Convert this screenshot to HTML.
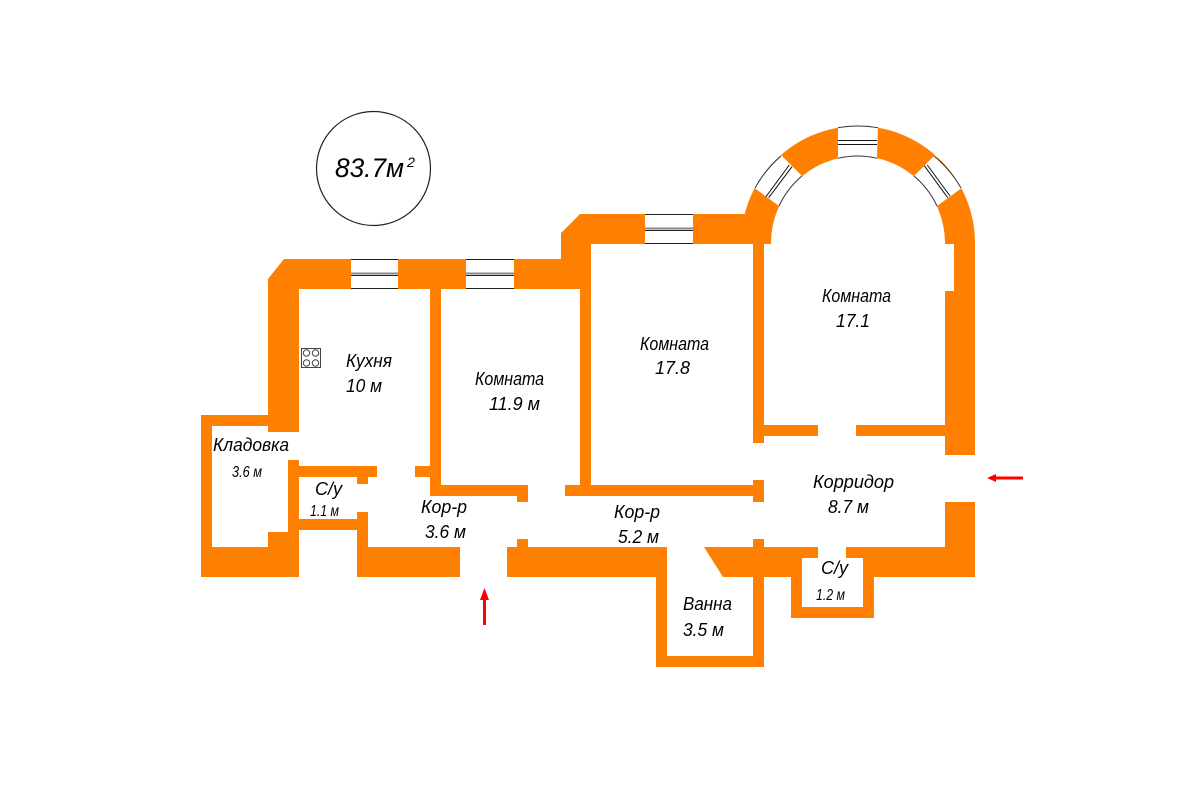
<!DOCTYPE html>
<html>
<head>
<meta charset="utf-8">
<style>
html,body{margin:0;padding:0;background:#fff;width:1197px;height:807px;overflow:hidden}
svg{display:block}
text{font-family:"Liberation Sans",sans-serif;font-style:italic;fill:#000;font-size:18px}
.s{font-size:15.5px}
</style>
</head>
<body>
<svg width="1197" height="807" viewBox="0 0 1197 807" xmlns="http://www.w3.org/2000/svg">
<rect width="1197" height="807" fill="#fff"/>
<circle cx="373.5" cy="168.5" r="57" fill="none" stroke="#222" stroke-width="1.2"/>
<g fill="#ff8000">
<polygon points="268,279 284,259 351,259 351,289 299,289 299,432 268,432"/>
<rect x="398" y="259" width="68" height="30"/>
<polygon points="514,259 561,259 561,233 580,214 645,214 645,244 591,244 591,496 580,496 580,289 514,289"/>
<rect x="693" y="214" width="78" height="30"/>
<path d="M741,243 A117,117 0 0 1 975,243 L945,243 A87,87 0 0 0 771,243 Z"/>
<polygon points="945,243 975,243 975,455 945,455 945,291 954,291 954,244 945,244"/>
<rect x="430" y="289" width="11" height="207"/>
<rect x="415" y="466" width="15" height="11"/>
<rect x="430" y="485" width="98" height="11"/>
<rect x="517" y="496" width="11" height="6"/>
<rect x="565" y="485" width="188" height="11"/>
<rect x="753" y="244" width="11" height="199"/>
<rect x="764" y="425" width="54" height="11"/>
<rect x="856" y="425" width="89" height="11"/>
<rect x="753" y="480" width="11" height="22"/>
<rect x="201" y="415" width="67" height="11"/>
<rect x="201" y="415" width="11" height="132"/>
<rect x="201" y="547" width="98" height="30"/>
<rect x="268" y="532" width="31" height="15"/>
<rect x="288" y="460" width="11" height="72"/>
<rect x="299" y="466" width="78" height="11"/>
<rect x="357" y="477" width="11" height="7"/>
<rect x="299" y="519" width="58" height="11"/>
<rect x="357" y="512" width="11" height="35"/>
<rect x="357" y="547" width="103" height="30"/>
<rect x="507" y="547" width="160" height="30"/>
<rect x="517" y="539" width="11" height="8"/>
<rect x="656" y="577" width="11" height="90"/>
<rect x="656" y="656" width="108" height="11"/>
<rect x="753" y="539" width="11" height="117"/>
<polygon points="704,547 818,547 818,558 802,558 802,607 863,607 863,558 846,558 846,547 945,547 945,502 975,502 975,577 874,577 874,618 791,618 791,577 723,577"/>
</g>
<!-- straight windows -->
<g fill="#fff" stroke="none">
<rect x="351" y="259" width="47" height="30"/>
<rect x="466" y="259" width="48" height="30"/>
<rect x="645" y="214" width="48" height="30"/>
</g>
<g stroke="#222" stroke-width="1" fill="none">
<path d="M351,259.5H398M351,288.5H398M466,259.5H514M466,288.5H514M645,214.5H693M645,243.5H693"/>
<path d="M351,275.5H398M466,275.5H514M645,230.5H693"/>
</g>
<g stroke="#888" stroke-width="2" fill="none">
<path d="M351,273.5H398M466,273.5H514M645,228.5H693"/>
</g>
<!-- arc windows -->
<g fill="#fff" stroke="none">
<path d="M838,125 L878,125 L877,158.3 A87,87 0 0 0 838,158.3 Z"/>
<path d="M781,155 L753,187 L779,206 A87,87 0 0 1 802,176 Z"/>
<path d="M935,155 L963,187 L937,206 A87,87 0 0 0 914,176 Z"/>
</g>
<g fill="none" stroke="#333" stroke-width="1">
<path d="M838,127.7 A117,117 0 0 1 878,127.7"/>
<path d="M838,158.3 A87,87 0 0 1 877,158.3"/>
<path d="M781,156 A117,117 0 0 0 755,188"/>
<path d="M779,206 A87,87 0 0 1 802,176"/>
<path d="M934,156 A117,117 0 0 1 961,188"/>
<path d="M937,206 A87,87 0 0 0 914,176"/>
</g>
<g fill="none" stroke="#111" stroke-width="1">
<path d="M838,140.5H877M838,144.5H877"/>
<path d="M789.3,165L766,196.7M792,166.7L768.7,197.7"/>
<path d="M924.3,165.7L947.7,197.7M927.3,165L950,196"/>
</g>
<!-- stove -->
<rect x="301.5" y="348.5" width="19" height="19" fill="#fff" stroke="#444" stroke-width="1"/>
<g fill="#fff" stroke="#444" stroke-width="1">
<circle cx="306.5" cy="353" r="3.2"/>
<circle cx="315.5" cy="353" r="3.2"/>
<circle cx="306.5" cy="363" r="3.2"/>
<circle cx="315.5" cy="363" r="3.2"/>
</g>
<!-- arrows -->
<g fill="#f00">
<rect x="483" y="598" width="3" height="27"/>
<polygon points="484.5,588 489,600 480,600"/>
<rect x="994" y="476.5" width="29" height="3"/>
<polygon points="987,478 996,474 996,482"/>
</g>
<!-- labels -->
<text x="335" y="177" style="font-size:27px" textLength="69" lengthAdjust="spacingAndGlyphs">83.7м</text>
<text x="407" y="167" style="font-size:14px" textLength="8" lengthAdjust="spacingAndGlyphs">2</text>
<text x="346" y="367" textLength="46" lengthAdjust="spacingAndGlyphs">Кухня</text>
<text x="346" y="392" textLength="36" lengthAdjust="spacingAndGlyphs">10 м</text>
<text x="213" y="451" textLength="76" lengthAdjust="spacingAndGlyphs">Кладовка</text>
<text x="232" y="477" class="s" textLength="30" lengthAdjust="spacingAndGlyphs">3.6 м</text>
<text x="315" y="495" textLength="27" lengthAdjust="spacingAndGlyphs">С/у</text>
<text x="310" y="516" class="s" textLength="29" lengthAdjust="spacingAndGlyphs">1.1 м</text>
<text x="421" y="513" textLength="46" lengthAdjust="spacingAndGlyphs">Кор-р</text>
<text x="425" y="538" textLength="41" lengthAdjust="spacingAndGlyphs">3.6 м</text>
<text x="614" y="518" textLength="46" lengthAdjust="spacingAndGlyphs">Кор-р</text>
<text x="618" y="543" textLength="41" lengthAdjust="spacingAndGlyphs">5.2 м</text>
<text x="813" y="488" textLength="81" lengthAdjust="spacingAndGlyphs">Корридор</text>
<text x="828" y="513" textLength="41" lengthAdjust="spacingAndGlyphs">8.7 м</text>
<text x="821" y="574" textLength="27" lengthAdjust="spacingAndGlyphs">С/у</text>
<text x="816" y="600" class="s" textLength="29" lengthAdjust="spacingAndGlyphs">1.2 м</text>
<text x="683" y="610" textLength="49" lengthAdjust="spacingAndGlyphs">Ванна</text>
<text x="683" y="636" textLength="41" lengthAdjust="spacingAndGlyphs">3.5 м</text>
<text x="475" y="385" textLength="69" lengthAdjust="spacingAndGlyphs">Комната</text>
<text x="489" y="410" textLength="51" lengthAdjust="spacingAndGlyphs">11.9 м</text>
<text x="640" y="350" textLength="69" lengthAdjust="spacingAndGlyphs">Комната</text>
<text x="655" y="374" textLength="35" lengthAdjust="spacingAndGlyphs">17.8</text>
<text x="822" y="302" textLength="69" lengthAdjust="spacingAndGlyphs">Комната</text>
<text x="836" y="327" textLength="34" lengthAdjust="spacingAndGlyphs">17.1</text>
</svg>
</body>
</html>
